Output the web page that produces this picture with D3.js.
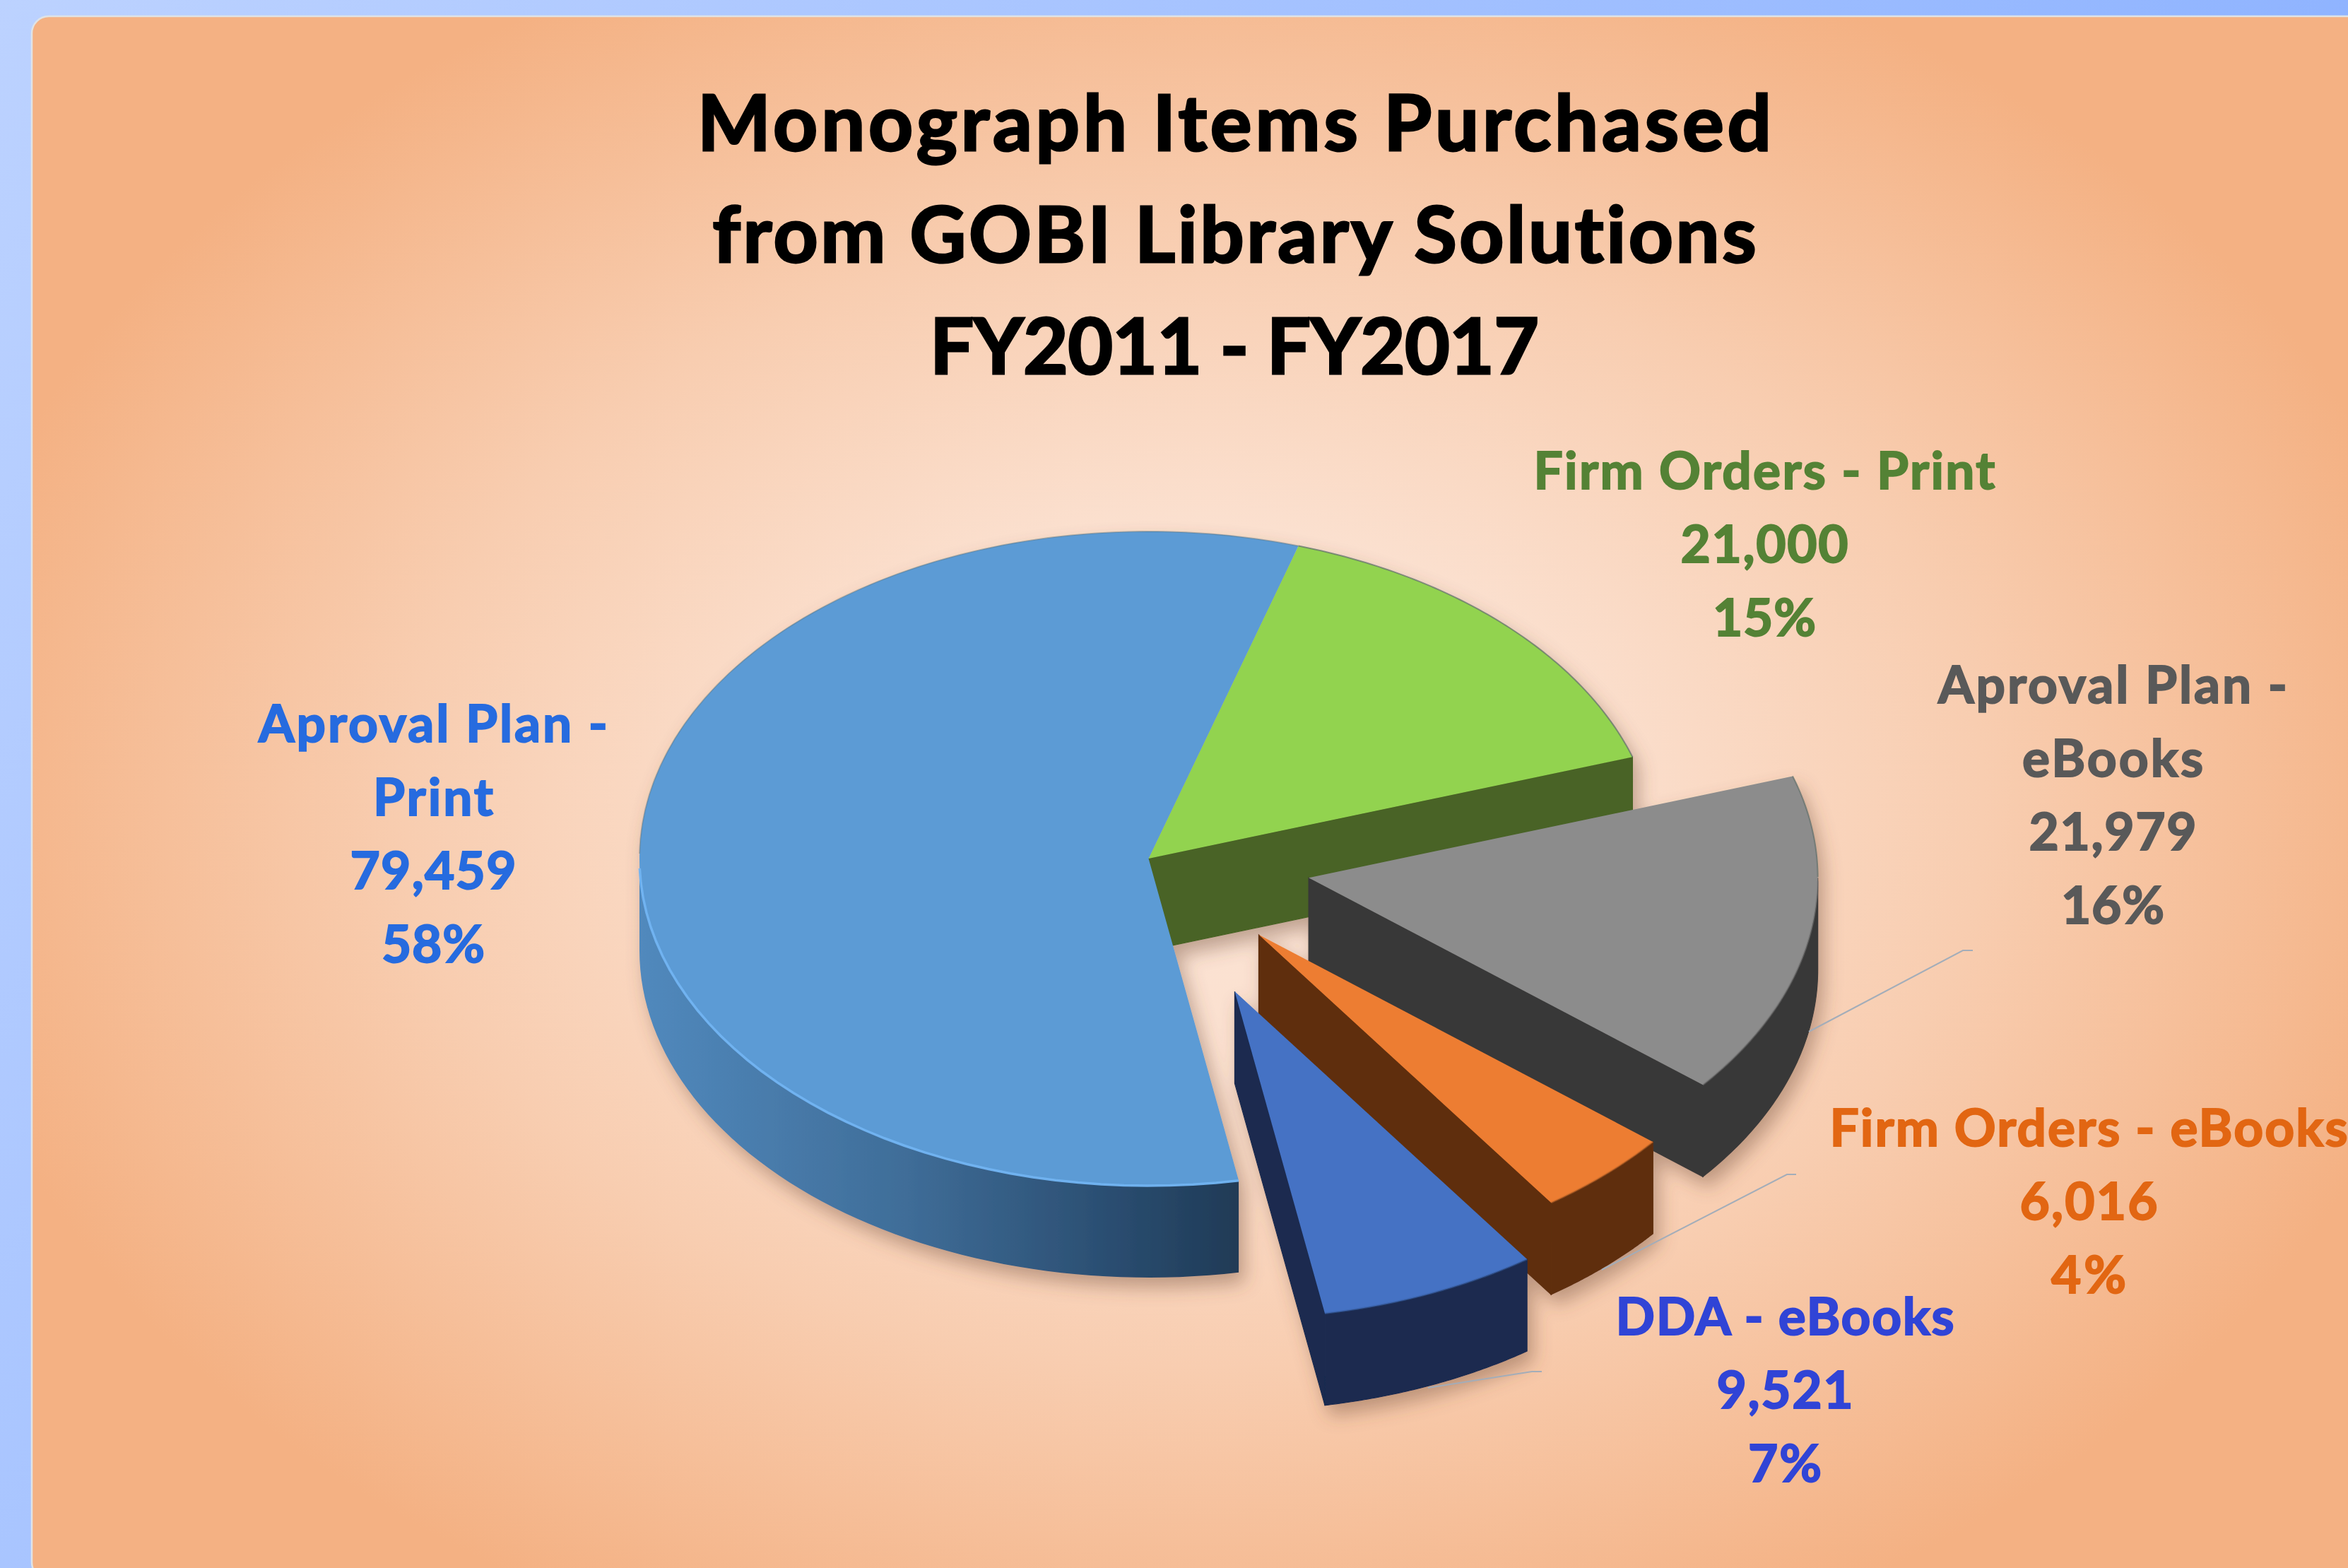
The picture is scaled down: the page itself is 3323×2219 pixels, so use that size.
<!DOCTYPE html>
<html><head><meta charset="utf-8">
<script src="https://cdnjs.cloudflare.com/ajax/libs/d3/7.8.5/d3.min.js"></script>
<style>html,body{margin:0;padding:0;background:#9dbcff;overflow:hidden}svg{display:block}text{font-variant-ligatures:none;paint-order:stroke}</style>
</head><body><svg id="c" width="3323" height="2219"></svg>
<script>
const titleLines = ["Monograph Items Purchased","from GOBI Library Solutions","FY2011 - FY2017"];
const categories = ["Aproval Plan - Print","Firm Orders - Print","Aproval Plan - eBooks","Firm Orders - eBooks","DDA - eBooks"];
const values = [79459,21000,21979,6016,9521];
const percents = ["58%","15%","16%","4%","7%"];
const labelNames = [["Aproval Plan -","Print"],["Firm Orders - Print"],["Aproval Plan -","eBooks"],["Firm Orders - eBooks"],["DDA - eBooks"]];
const explosions = [0,0,0.32,0.318,0.44];

const W=3323,H=2219, cx=1625.5, cy=1215, rx=720.5, ry=463, depth=130, rad=Math.PI/180;
const topColors=["#5b9bd5","#92d350","#8c8c8c","#ed7d31","#4472c4"];
const wallColors=["url(#wallBlue)","#486325","#383838","#5f2f10","#1a2b50"];
const textColors=["#266bdf","#548235","#595959","#e26612","#3044d6"];
const labelCx=[613,2497,2990,2956,2526], labelY0=[1050,692,995,1622,1889], lineGap=104;
const titleWidths=[1520,1477,862];
const labelWidths=[[494,170,235,146],[653,237,146],[494,256,237,146],[733,195,106],[479,193,104]];
const leaders=[null,null,[[2560,1460],[2778,1345],[2792,1345]],[[2267,1797],[2529,1662],[2542,1662]],[[2021,1964],[2168,1941],[2182,1941]]];
const fontFam="Lato, Carlito, 'Open Sans', sans-serif";

const svg=d3.select("#c"), defs=svg.append("defs");
const lg=(id,x1,y1,x2,y2,stops)=>{const g=defs.append("linearGradient").attr("id",id).attr("gradientUnits","userSpaceOnUse")
  .attr("x1",x1).attr("y1",y1).attr("x2",x2).attr("y2",y2);
  stops.forEach(s=>g.append("stop").attr("offset",s[0]).attr("stop-color",s[1]));};
lg("bgBlue",0,0,W,H,[[0,"#bcd2ff"],[0.5,"#9dbdff"],[1,"#7aa5ff"]]);
lg("wallBlue",cx-rx,0,cx+120,0,[[0,"#5189bd"],[0.45,"#3f6d98"],[0.8,"#2a4d70"],[1,"#203b57"]]);
const rg=defs.append("radialGradient").attr("id","panel").attr("gradientUnits","userSpaceOnUse")
  .attr("cx",0).attr("cy",0).attr("r",1)
  .attr("gradientTransform",`translate(1690 1130) scale(1800 1300)`);
[[0,"#fbe4d5"],[0.3,"#fbe0cf"],[0.62,"#f8cdb0"],[1,"#f4b183"]].forEach(s=>rg.append("stop").attr("offset",s[0]).attr("stop-color",s[1]));
const f=defs.append("filter").attr("id","shadow").attr("x","-10%").attr("y","-10%").attr("width","125%").attr("height","130%");
f.append("feDropShadow").attr("dx",8).attr("dy",14).attr("stdDeviation",13).attr("flood-color","#6b4a35").attr("flood-opacity",0.42);

svg.append("rect").attr("width",W).attr("height",H).attr("fill","url(#bgBlue)");
svg.append("rect").attr("x",45).attr("y",23).attr("width",W+60).attr("height",H-23+16).attr("rx",24)
  .attr("fill","url(#panel)").attr("stroke","#dfe3e6").attr("stroke-width",2.5);

const pie=d3.pie().sort(null).value(d=>d).startAngle(-190.2*rad).endAngle(169.8*rad);
const arcs=pie(values).map((a,i)=>({...a,i}));
const arcGen=d3.arc().innerRadius(0).outerRadius(rx);
const line=d3.line();
function origin(d){
  const m=(d.startAngle+d.endAngle)/2, e=explosions[d.i];
  return [cx+Math.sin(m)*rx*e, cy-Math.cos(m)*ry*e];
}
function pt(o,a,dz=0){return [o[0]+Math.sin(a)*rx, o[1]-Math.cos(a)*ry+dz];}
function wallPoly(d){
  const o=origin(d), polys=[];
  [[Math.PI/2,Math.PI*1.5],[-Math.PI*1.5,-Math.PI/2]].forEach(w=>{
    const a0=Math.max(d.startAngle,w[0]), a1=Math.min(d.endAngle,w[1]);
    if(a1>a0){
      const s=d3.range(0,61).map(k=>a0+(a1-a0)*k/60);
      polys.push(s.map(a=>pt(o,a)).concat(s.slice().reverse().map(a=>pt(o,a,depth))));
    }
  });
  return polys;
}
function facePoly(d,a){const o=origin(d);return [o,pt(o,a),pt(o,a,depth),[o[0],o[1]+depth]];}

const gPie=svg.append("g").attr("filter","url(#shadow)");
const order=[1,0,2,3,4];
order.forEach(i=>{
  const d=arcs[i], n=arcs.length, next=arcs[(i+1)%n], prev=arcs[(i-1+n)%n], o=origin(d);
  const g=gPie.append("g");
  const touchesEnd=explosions[i]===0&&explosions[next.i]===0;
  const touchesStart=explosions[i]===0&&explosions[prev.i]===0;
  const seam=i===0?null:wallColors[i];
  if(Math.sin(d.endAngle)>0&&!touchesEnd) g.append("path").attr("d",line(facePoly(d,d.endAngle))+"Z").attr("fill",wallColors[i]).attr("stroke",seam).attr("stroke-width",1.2);
  if(Math.sin(d.startAngle)<0&&!touchesStart) g.append("path").attr("d",line(facePoly(d,d.startAngle))+"Z").attr("fill",wallColors[i]).attr("stroke",seam).attr("stroke-width",1.2);
  wallPoly(d).forEach(p=>g.append("path").attr("d",line(p)+"Z").attr("fill",wallColors[i]).attr("stroke",seam).attr("stroke-width",1.2));
  g.append("path").attr("d",arcGen(d)).attr("transform",`translate(${o[0]},${o[1]}) scale(1,${ry/rx})`).attr("fill",topColors[i]);
  const rim=d3.range(0,81).map(k=>d.startAngle+(d.endAngle-d.startAngle)*k/80);
  const front=a=>Math.cos(a)<0;
  g.append("path").attr("d",line(rim.filter(a=>!front(a)).map(a=>pt(o,a)))).attr("fill","none")
   .attr("stroke","#5e6e6a").attr("stroke-opacity",i===0?0.35:0.7).attr("stroke-width",2);
  g.append("path").attr("d",line(rim.filter(front).map(a=>pt(o,a)))).attr("fill","none")
   .attr("stroke",i===0?"#72b4f2":d3.color(topColors[i]).darker(0.5)).attr("stroke-opacity",i===0?0.95:0.5).attr("stroke-width",i===0?3.5:2.5);
});

const gLead=svg.append("g");
leaders.forEach(l=>{if(l) gLead.append("path").attr("d",line(l)).attr("fill","none").attr("stroke","#a3adb9").attr("stroke-width",2);});

const gTitle=svg.append("g").attr("font-family",fontFam).attr("font-weight",700).attr("text-anchor","middle");
const titleY=d3.scaleLinear().domain([0,2]).range([213,529]);
gTitle.selectAll("text").data(titleLines).join("text").attr("x",1747).attr("y",(d,i)=>titleY(i))
  .attr("font-size",110).attr("fill","#000").attr("stroke","#000").attr("stroke-width",3)
  .attr("textLength",(d,i)=>titleWidths[i]).attr("lengthAdjust","spacing").text(d=>d);

const fmt=d3.format(",");
const gLab=svg.append("g").attr("font-family",fontFam).attr("font-weight",700).attr("text-anchor","middle").attr("font-size",73);
categories.forEach((c,i)=>{
  const lines=[...labelNames[i],fmt(values[i]),percents[i]];
  lines.forEach((t,k)=>gLab.append("text").attr("x",labelCx[i]).attr("y",labelY0[i]+k*lineGap).attr("fill",textColors[i])
    .attr("stroke",textColors[i]).attr("stroke-width",2)
    .attr("textLength",labelWidths[i][k]).attr("lengthAdjust","spacing").text(t));
});
</script></body></html>
